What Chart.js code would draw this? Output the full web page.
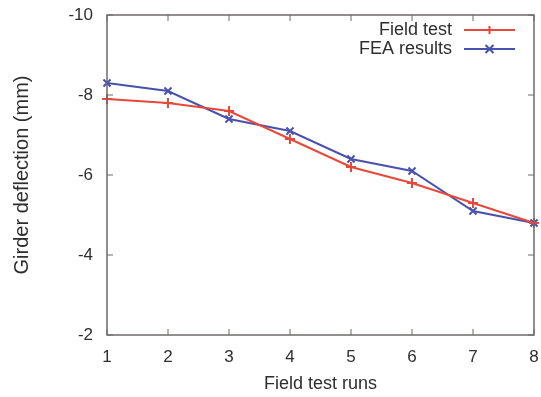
<!DOCTYPE html>
<html>
<head>
<meta charset="utf-8">
<script src="https://cdn.jsdelivr.net/npm/chart.js@4.4.0/dist/chart.umd.min.js"></script>
<style>
  html, body { margin: 0; padding: 0; background: #fff; }
  #wrap { width: 541px; height: 397px; }
</style>
</head>
<body>
<div id="wrap"><canvas id="deflectionChart" width="541" height="397"></canvas></div>
<script>
// Data
const runs = [1, 2, 3, 4, 5, 6, 7, 8];
const fieldTest = [-7.9, -7.8, -7.6, -6.9, -6.2, -5.8, -5.3, -4.8];
const feaResults = [-8.3, -8.1, -7.4, -7.1, -6.4, -6.1, -5.1, -4.8];
const yTicks = [-10, -8, -6, -4, -2];

const RED = '#e8483a';
const BLUE = '#4852ad';
const FRAME = '#6e6a68';
const TEXT = '#2e2e2e';
const FONT = '"Liberation Sans", Arial, sans-serif';

// gnuplot-like frame with inward ticks on all four sides + right-aligned legend
const framePlugin = {
    id: 'frame',
    afterDatasetsDraw(chart) {
        const ctx = chart.ctx;
        const a = chart.chartArea;
        const xs = chart.scales.x, ys = chart.scales.y;
        ctx.save();
        ctx.strokeStyle = FRAME;
        ctx.lineWidth = 1.5;
        ctx.strokeRect(a.left, a.top, a.right - a.left, a.bottom - a.top);
        ctx.lineWidth = 1;
        const t = 6;
        ctx.beginPath();
        runs.forEach(r => {
            const px = xs.getPixelForValue(r);
            ctx.moveTo(px, a.bottom); ctx.lineTo(px, a.bottom - t);
            ctx.moveTo(px, a.top); ctx.lineTo(px, a.top + t);
        });
        yTicks.forEach(v => {
            const py = ys.getPixelForValue(v);
            ctx.moveTo(a.left, py); ctx.lineTo(a.left + t, py);
            ctx.moveTo(a.right, py); ctx.lineTo(a.right - t, py);
        });
        ctx.stroke();

        // legend
        ctx.font = '18px ' + FONT;
        ctx.textAlign = 'right';
        ctx.textBaseline = 'middle';
        chart.data.datasets.forEach((ds, i) => {
            const y = 30 + i * 19;
            ctx.fillStyle = TEXT;
            ctx.fillText(ds.label, 452, y);
            ctx.strokeStyle = ds.borderColor;
            ctx.lineWidth = 2;
            ctx.beginPath();
            ctx.moveTo(464, y); ctx.lineTo(515, y);
            ctx.stroke();
            const cx = 489.5, s = 4;
            ctx.beginPath();
            if (ds.pointStyle === 'cross') {
                ctx.moveTo(cx - s, y); ctx.lineTo(cx + s, y);
                ctx.moveTo(cx, y - s); ctx.lineTo(cx, y + s);
            } else {
                ctx.moveTo(cx - s, y - s); ctx.lineTo(cx + s, y + s);
                ctx.moveTo(cx - s, y + s); ctx.lineTo(cx + s, y - s);
            }
            ctx.stroke();
        });
        ctx.restore();
    }
};

new Chart(document.getElementById('deflectionChart'), {
    type: 'line',
    data: {
        datasets: [
            {
                label: 'Field test',
                data: runs.map((r, i) => ({ x: r, y: fieldTest[i] })),
                borderColor: RED, backgroundColor: RED,
                borderWidth: 2, pointStyle: 'cross', pointRadius: 5, pointBorderWidth: 2,
                tension: 0, clip: false
            },
            {
                label: 'FEA results',
                data: runs.map((r, i) => ({ x: r, y: feaResults[i] })),
                borderColor: BLUE, backgroundColor: BLUE,
                borderWidth: 2, pointStyle: 'crossRot', pointRadius: 5, pointBorderWidth: 2,
                tension: 0, clip: false
            }
        ]
    },
    options: {
        responsive: false,
        animation: false,
        layout: { padding: { top: 15, right: -2, left: 0, bottom: 0 } },
        plugins: { legend: { display: false }, tooltip: { enabled: false } },
        scales: {
            x: {
                type: 'linear', min: 1, max: 8,
                afterBuildTicks(s) { s.ticks = runs.map(v => ({ value: v })); },
                afterFit(s) { s.height = 62; s.paddingRight = 0; s.paddingLeft = 0; },
                grid: { display: false, drawTicks: false },
                border: { display: false },
                ticks: { color: TEXT, padding: 12, font: { size: 17, family: FONT } },
                title: { display: true, text: 'Field test runs', color: TEXT, padding: { top: 4, bottom: 2 },
                         font: { size: 18, family: FONT } }
            },
            y: {
                type: 'linear', min: -10, max: -2, reverse: true,
                afterBuildTicks(s) { s.ticks = yTicks.map(v => ({ value: v })); },
                afterFit(s) { s.width = 107; s.paddingTop = 0; s.paddingBottom = 0; },
                grid: { display: false, drawTicks: false },
                border: { display: false },
                ticks: { color: TEXT, padding: 14, font: { size: 17, family: FONT } },
                title: { display: true, text: 'Girder deflection (mm)', color: TEXT, padding: { top: 10, bottom: 0 },
                         font: { size: 20, family: FONT } }
            }
        }
    },
    plugins: [framePlugin]
});
</script>
</body>
</html>
